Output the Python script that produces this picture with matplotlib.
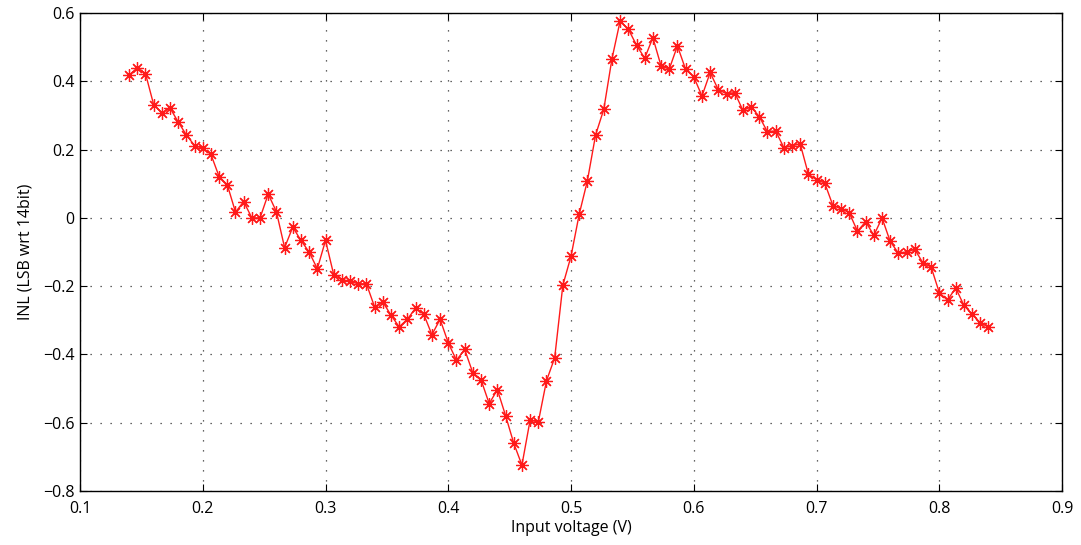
import matplotlib
matplotlib.use('Agg')
import matplotlib.pyplot as plt
import numpy as np

# input voltage grid: 106 evenly spaced samples from 0.14 V to 0.84 V
v_start, v_stop, n_pts = 0.14, 0.84, 106
voltage = np.linspace(v_start, v_stop, n_pts)

inl = [0.418, 0.440, 0.423, 0.332, 0.308, 0.322, 0.281, 0.243, 0.212, 0.204,
       0.186, 0.121, 0.097, 0.017, 0.048, 0.000, 0.000, 0.070, 0.018, -0.087,
       -0.027, -0.066, -0.100, -0.149, -0.066, -0.166, -0.181, -0.186, -0.193, -0.193,
       -0.261, -0.246, -0.285, -0.319, -0.297, -0.264, -0.282, -0.342, -0.297, -0.366,
       -0.417, -0.385, -0.454, -0.474, -0.544, -0.503, -0.579, -0.660, -0.724, -0.592,
       -0.598, -0.477, -0.410, -0.197, -0.112, 0.011, 0.109, 0.243, 0.318, 0.466,
       0.577, 0.553, 0.506, 0.468, 0.528, 0.445, 0.436, 0.504, 0.435, 0.413,
       0.357, 0.426, 0.375, 0.364, 0.367, 0.315, 0.325, 0.297, 0.252, 0.255,
       0.206, 0.212, 0.217, 0.128, 0.112, 0.102, 0.036, 0.027, 0.015, -0.039,
       -0.011, -0.051, 0.000, -0.069, -0.103, -0.100, -0.092, -0.132, -0.144, -0.219,
       -0.241, -0.205, -0.256, -0.282, -0.307, -0.320]

x_ticks = [0.1, 0.2, 0.3, 0.4, 0.5, 0.6, 0.7, 0.8, 0.9]
y_ticks = [-0.8, -0.6, -0.4, -0.2, 0, 0.2, 0.4, 0.6]

plt.rcParams['font.family'] = ['Open Sans', 'DejaVu Sans']
plt.rcParams['font.size'] = 11.5

fig = plt.figure(figsize=(10.81, 5.45), dpi=100)
ax = fig.add_axes([0.074, 0.099, 0.9085, 0.877])

# MATLAB-style '*' marker: 8-spoke asterisk
ax.plot(voltage, inl, color='#ff1a1a', lw=1.0, marker=(8, 2, 0), markersize=9,
        markeredgewidth=0.9)

ax.set_xlim(0.1, 0.9)
ax.set_ylim(-0.8, 0.6)
ax.set_xticks(x_ticks)
ax.set_yticks(y_ticks)
ax.set_xticklabels(['0.1', '0.2', '0.3', '0.4', '0.5', '0.6', '0.7', '0.8', '0.9'])
ax.set_yticklabels(['\u22120.8', '\u22120.6', '\u22120.4', '\u22120.2', '0', '0.2', '0.4', '0.6'])
ax.tick_params(direction='in', top=True, right=True, length=5, width=0.8)
ax.tick_params(axis='x', pad=7)
ax.tick_params(axis='y', pad=4)
ax.grid(True, color='black', linestyle=(0, (1, 7)), linewidth=0.9, alpha=0.8)
for s in ax.spines.values():
    s.set_linewidth(1.0)

ax.set_xlabel('Input voltage (V)', labelpad=2)
ax.set_ylabel('INL (LSB wrt 14bit)', labelpad=7)

fig.savefig('out.png', dpi=100)
